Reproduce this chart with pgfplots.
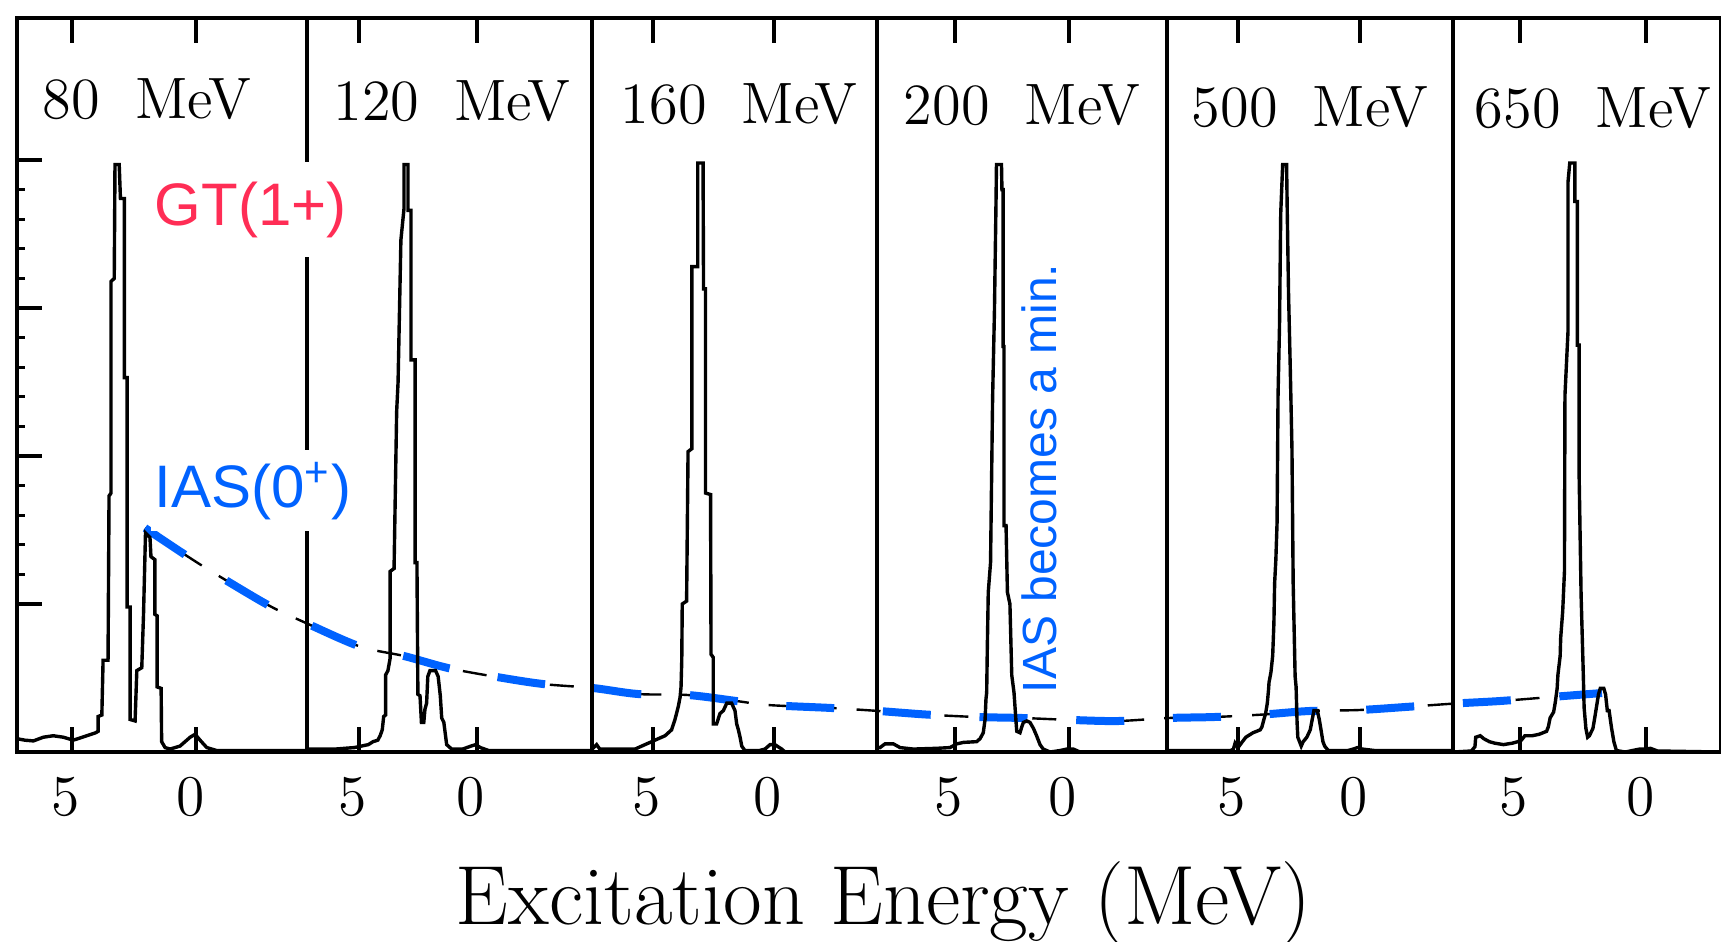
\documentclass[border=0pt]{standalone}
\usepackage{fontspec}
\usepackage{pgfplots}
\pgfplotsset{compat=1.18}
\newfontfamily\sansf{Liberation Sans}
\definecolor{iasblue}{RGB}{0,98,255}
\definecolor{gtred}{RGB}{255,45,85}
\pgfplotsset{
  panel/.style={
    anchor=north west, scale only axis, height=183.5pt,
    x dir=reverse, ymin=0, ymax=4.96, enlargelimits=false,
    xtick={0,5}, ytick=\empty, xmajorticks=true, xtick pos=both,
    xtick align=inside, ytick align=inside,
    major tick length=6.3pt, minor tick length=2pt,
    axis line style={line width=0.8pt},
    tick style={black, line width=0.8pt},
    xticklabel style={font=\fontsize{14.5}{14.5}\selectfont, yshift=-3pt, xshift=-1.5pt},
    clip=true,
  },
  spec/.style={black, line width=0.85pt, no marks},
}
\begin{document}
\begin{tikzpicture}
\useasboundingbox (0,0) rectangle (430.25pt,-235.25pt);

% ---------- overlay (pixel coordinates of the figure), drawn first
\begin{axis}[anchor=north west, at={(0pt,0pt)}, scale only axis,
  width=430.25pt, height=235.25pt, xmin=0, xmax=1721, ymin=0, ymax=941,
  y dir=reverse, axis lines=none, ticks=none, clip=false]
% tick marks of the six panels (at 5 and 0 MeV), bottom and top
\pgfplotsinvokeforeach{72,196,359,477,653,774,955,1069,1238,1360,1520,1646}{
  \addplot[black, line width=0.8pt, no marks, forget plot] coordinates {(#1,752)(#1,727)};
  \addplot[black, line width=0.8pt, no marks, forget plot] coordinates {(#1,18)(#1,43)};
}
\addplot[black, line width=0.6pt, dash pattern=on 6pt off 5pt, smooth, no marks] coordinates {
(145,528)(185.5,555)(214,573)(268,605)(306,623)(360,646.5)(404,656)(448,668)(497,677)
(543,684)(593,688)(638,694)(688,695)(736.5,701)(768,705)(832,708)(879,711)(926,714.5)
(977,717)(1023,718)(1073,720)(1118,721)(1168,718)(1214,717)(1263,714.5)(1309,711)
(1359,710)(1405,707)(1455,703.5)(1500,701)(1551,697)(1602,693)};
\addplot[iasblue, line width=2pt, dash pattern=on 12pt off 12.2pt, smooth, no marks] coordinates {
(145,528)(185.5,555)(214,573)(268,605)(306,623)(360,646.5)(404,656)(448,668)(497,677)
(543,684)(593,688)(638,694)(688,695)(736.5,701)(768,705)(832,708)(879,711)(926,714.5)
(977,717)(1023,718)(1073,720)(1118,721)(1168,718)(1214,717)(1263,714.5)(1309,711)
(1359,710)(1405,707)(1455,703.5)(1500,701)(1551,697)(1602,693)};

\begin{scope}[every node/.style={inner sep=0pt, font=\fontsize{14.6}{15}\selectfont}]
\node[anchor=base west] at (axis cs:42,118.5) {80\hspace{0.6em}MeV};
\node[anchor=base west] at (axis cs:332.6,120.7) {120\hspace{0.6em}MeV};
\node[anchor=base west] at (axis cs:620,123) {160\hspace{0.6em}MeV};
\node[anchor=base west] at (axis cs:903,124) {200\hspace{0.6em}MeV};
\node[anchor=base west] at (axis cs:1191,126) {500\hspace{0.6em}MeV};
\node[anchor=base west] at (axis cs:1474,127) {650\hspace{0.6em}MeV};
\end{scope}

\node[anchor=base, inner sep=0pt, font=\fontsize{21}{22}\selectfont]
  at (axis cs:883.5,924) {Excitation Energy (MeV)};

\node[anchor=base west, rotate=90, inner sep=0pt, text=iasblue,
  font=\sansf\fontsize{12}{13}\selectfont] at (axis cs:1056,694) {IAS becomes a min.};
\end{axis}

% ---------- 80 MeV
\begin{axis}[panel, at={(4.25pt,-4.5pt)}, width=72.5pt, xmin=-4.47, xmax=7.22,
  ytick={1,2,3,4}, minor y tick num=4, ytick pos=left, yticklabels={}]
\addplot[spec] coordinates {
(7.22,0.09)(6.90,0.08)(6.56,0.075)(6.16,0.10)(5.76,0.11)(5.35,0.10)(4.95,0.08)
(4.41,0.11)(4.05,0.13)(3.95,0.14)(3.95,0.24)(3.80,0.25)(3.75,0.62)(3.55,0.62)
(3.51,1.73)(3.43,1.75)(3.43,3.18)(3.30,3.20)(3.27,3.97)(3.10,3.97)(3.05,3.74)
(2.89,3.74)(2.89,2.53)(2.78,2.53)(2.78,0.98)(2.66,0.98)(2.66,0.22)(2.46,0.21)
(2.39,0.55)(2.19,0.57)(2.12,0.93)(2.04,1.48)(1.86,1.45)(1.82,1.32)(1.66,1.30)
(1.66,0.93)(1.57,0.92)(1.57,0.44)(1.41,0.43)(1.39,0.07)(1.25,0.03)(1.05,0.02)
(0.65,0.04)(0.24,0.10)(0.04,0.12)(-0.16,0.08)(-0.43,0.03)(-0.83,0.01)(-4.47,0.01)};
\end{axis}

% ---------- 120 MeV
\begin{axis}[panel, at={(76.75pt,-4.5pt)}, width=71.25pt, xmin=-4.88, xmax=7.20]
\addplot[spec] coordinates {
(7.20,0.02)(6.0,0.02)(5.2,0.03)(4.6,0.05)(4.4,0.07)(4.2,0.08)(4.1,0.11)(4.01,0.15)
(3.95,0.24)(3.87,0.25)(3.87,0.52)(3.77,0.55)(3.68,0.63)(3.68,1.22)(3.51,1.24)
(3.40,2.3)(3.34,2.5)(3.22,3.46)(3.09,3.67)(3.09,3.97)(2.92,3.97)(2.92,3.66)
(2.79,3.66)(2.79,2.65)(2.62,2.65)(2.62,1.28)(2.54,1.28)(2.50,0.39)(2.41,0.38)
(2.35,0.20)(2.25,0.20)(2.20,0.29)(2.13,0.33)(2.08,0.51)(1.99,0.55)(1.75,0.55)
(1.64,0.51)(1.55,0.38)(1.49,0.23)(1.40,0.20)(1.28,0.05)(1.07,0.02)(0.6,0.02)
(0.25,0.04)(0.05,0.05)(-0.15,0.03)(-0.5,0.01)(-4.88,0.01)};
\end{axis}

% ---------- 160 MeV
\begin{axis}[panel, at={(148pt,-4.5pt)}, width=71.25pt, xmin=-4.26, xmax=7.52]
\addplot[spec] coordinates {
(7.52,0.02)(7.33,0.05)(7.2,0.02)(5.74,0.02)(5.33,0.05)(5.05,0.07)(4.78,0.09)
(4.50,0.11)(4.23,0.15)(4.09,0.22)(3.95,0.31)(3.88,0.37)(3.84,0.44)(3.81,0.62)
(3.79,1.0)(3.61,1.02)(3.55,2.03)(3.39,2.05)(3.39,3.28)(3.15,3.28)(3.15,3.98)
(2.93,3.98)(2.91,3.13)(2.83,3.13)(2.83,1.75)(2.62,1.74)(2.60,0.66)(2.51,0.64)
(2.51,0.19)(2.37,0.19)(2.23,0.26)(2.09,0.28)(1.95,0.33)(1.75,0.33)(1.61,0.28)
(1.54,0.19)(1.47,0.15)(1.40,0.10)(1.33,0.04)(1.20,0.01)(0.6,0.01)(0.37,0.02)
(0.16,0.05)(-0.04,0.05)(-0.32,0.02)(-0.46,0.0)(-4.26,0.0)};
\end{axis}

% ---------- 200 MeV
\begin{axis}[panel, at={(219.25pt,-4.5pt)}, width=72.5pt, xmin=-4.30, xmax=8.42]
\addplot[spec] coordinates {
(8.42,0.03)(8.29,0.03)(8.07,0.055)(7.70,0.055)(7.41,0.03)(6.83,0.02)(5.80,0.025)
(5.22,0.03)(4.92,0.055)(4.63,0.065)(4.05,0.07)(3.90,0.09)(3.76,0.13)(3.68,0.22)
(3.64,0.36)(3.61,0.40)(3.58,0.72)(3.54,1.08)(3.44,1.28)(3.35,2.39)(3.27,2.97)
(3.20,3.72)(3.18,3.97)(2.96,3.97)(2.94,3.80)(2.89,3.80)(2.89,2.74)(2.85,2.74)
(2.85,1.53)(2.76,1.53)(2.70,1.08)(2.59,1.0)(2.51,0.52)(2.41,0.40)(2.32,0.20)
(2.29,0.14)(2.15,0.13)(2.07,0.17)(2.00,0.20)(1.85,0.21)(1.71,0.20)(1.56,0.16)
(1.42,0.11)(1.27,0.05)(1.13,0.02)(0.83,0.0)(0.39,0.01)(0.10,0.02)(-0.19,0.02)
(-0.48,0.0)(-4.30,0.0)};
\end{axis}

% ---------- 500 MeV
\begin{axis}[panel, at={(291.75pt,-4.5pt)}, width=71.5pt, xmin=-3.81, xmax=7.91]
\addplot[spec] coordinates {
(7.91,0.01)(5.3,0.01)(5.19,0.02)(5.12,0.06)(5.0,0.03)(4.82,0.07)(4.68,0.10)
(4.39,0.13)(4.24,0.14)(4.09,0.15)(4.02,0.17)(3.94,0.22)(3.87,0.26)(3.80,0.33)
(3.75,0.42)(3.73,0.47)(3.65,0.54)(3.58,0.65)(3.53,0.87)(3.50,1.14)(3.45,1.30)
(3.40,1.55)(3.36,2.41)(3.30,2.88)(3.25,3.64)(3.17,3.97)(3.01,3.97)(2.98,3.62)
(2.93,3.10)(2.86,2.60)(2.79,2.05)(2.74,1.14)(2.66,0.51)(2.62,0.44)(2.58,0.20)
(2.55,0.10)(2.41,0.04)(2.33,0.07)(2.18,0.10)(2.04,0.15)(1.96,0.22)(1.89,0.28)
(1.75,0.28)(1.67,0.22)(1.60,0.15)(1.52,0.07)(1.45,0.04)(1.30,0.01)(0.50,0.01)
(0.28,0.02)(0.1,0.03)(-0.09,0.02)(-0.60,0.01)(-3.81,0.01)};
\end{axis}

% ---------- 650 MeV (right edge cut off)
\begin{axis}[panel, at={(363.25pt,-4.5pt)}, width=67pt, xmin=-2.97, xmax=7.66]
\addplot[spec] coordinates {
(7.66,0.0)(6.93,0.007)(6.79,0.036)(6.76,0.10)(6.58,0.11)(6.44,0.09)(6.22,0.07)
(6.01,0.06)(5.66,0.05)(5.30,0.06)(5.09,0.07)(4.95,0.08)(4.81,0.11)(4.52,0.11)
(4.24,0.12)(3.95,0.14)(3.88,0.17)(3.81,0.23)(3.67,0.27)(3.60,0.34)(3.53,0.43)
(3.50,0.52)(3.41,0.65)(3.39,0.77)(3.31,0.95)(3.24,1.22)(3.22,2.41)(3.10,2.84)
(3.10,3.85)(3.03,3.98)(2.83,3.98)(2.83,3.72)(2.73,3.72)(2.73,2.75)(2.66,2.75)
(2.66,1.89)(2.58,1.06)(2.50,0.57)(2.46,0.30)(2.39,0.16)(2.32,0.10)(2.25,0.11)
(2.11,0.16)(2.04,0.23)(1.89,0.39)(1.82,0.43)(1.68,0.43)(1.61,0.39)(1.54,0.28)
(1.47,0.28)(1.37,0.16)(1.28,0.07)(1.18,0.01)(0.83,0.0)(0.26,0.02)(0.0,0.02)
(-0.17,0.025)(-0.45,0.007)(-2.97,0.0)};
\end{axis}

% ---------- labels with white boxes over the 80/120 MeV divider
\node[anchor=base west, fill=white, inner xsep=1pt, inner ysep=5pt, text=gtred,
  font=\sansf\fontsize{15}{16}\selectfont] at (37.5pt,-56.25pt) {GT(1+)};
\node[anchor=base west, fill=white, inner xsep=1pt, inner ysep=3pt, text=iasblue,
  font=\sansf\fontsize{15}{16}\selectfont] at (37.5pt,-126.75pt) {IAS(0\textsuperscript{+})};
\end{tikzpicture}
\end{document}
